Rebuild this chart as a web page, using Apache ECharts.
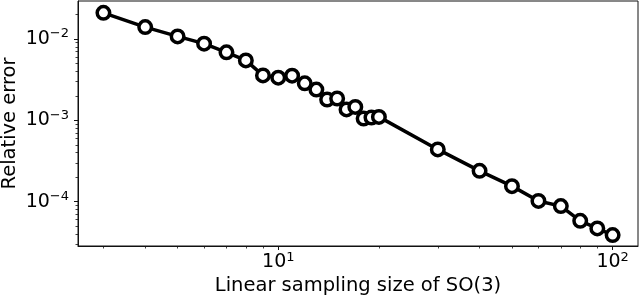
<!DOCTYPE html>
<html><head><meta charset="utf-8">
<script src="https://cdn.jsdelivr.net/npm/echarts@6/dist/echarts.min.js"></script>
<style>html,body{margin:0;padding:0;background:#fff}#c{width:640px;height:298px}</style>
</head><body><div id="c"></div>
<script>
const sampleSizes = [3,4,5,6,7,8,9,10,11,12,13,14,15,16,17,18,19,20,30,40,50,60,70,80,90,100];
const relativeErrors = [0.0209,0.01396,0.01073,0.00873,0.00683,0.00544,0.00356,0.00334,0.00353,0.00284,0.00238,0.00180,0.00185,0.00136,0.00146,0.00105,0.00108,0.00110,0.000438,0.000239,0.000155,0.000102,0.0000881,0.0000581,0.0000469,0.0000388];
const xMajorTicks = [10,100];
const xMinorTicks = [3,4,5,6,7,8,9,20,30,40,50,60,70,80,90];
const yMajorTicks = [1e-4,1e-3,1e-2];
const yMinorTicks = [3e-5,4e-5,5e-5,6e-5,7e-5,8e-5,9e-5,2e-4,3e-4,4e-4,5e-4,6e-4,7e-4,8e-4,9e-4,2e-3,3e-3,4e-3,5e-3,6e-3,7e-3,8e-3,9e-3,2e-2];
const xTitle = 'Linear sampling size of SO(3)';
const yTitle = 'Relative error';

const FONT = 'DejaVu Sans';
const X_MIN = 2.518, X_MAX = 119.1;
const Y_MIN = 2.85e-5, Y_MAX = 0.0292;
const rich = {
  b: {fontSize: 19, fontFamily: FONT, color: '#000'},
  s: {fontSize: 13, fontFamily: FONT, color: '#000', padding: [0, 0, 10, 0]}
};
function powLabel(v) {
  const e = Math.round(Math.log10(v));
  return '{b|10}{s|' + (e < 0 ? '\u2212' + (-e) : String(e)) + '}';
}
const chart = echarts.init(document.getElementById('c'), null, {renderer: 'canvas'});
chart.setOption({
  animation: false,
  backgroundColor: '#fff',
  grid: {left: 78, right: 2, top: 1, bottom: 52, show: true, borderColor: '#111', borderWidth: 1,
         containLabel: false, outerBoundsMode: 'none'},
  xAxis: [{
    type: 'log', min: X_MIN, max: X_MAX, position: 'bottom',
    name: xTitle, nameLocation: 'middle', nameGap: 30, nameMoveOverlap: false,
    nameTextStyle: {fontFamily: FONT, fontSize: 19.5, color: '#000'},
    axisLine: {show: true, lineStyle: {color: '#111', width: 1}},
    axisTick: {show: true, length: 4, inside: false, customValues: xMajorTicks, lineStyle: {color: '#111', width: 1}},
    axisLabel: {show: true, customValues: xMajorTicks, margin: 5, formatter: powLabel, rich: rich},
    splitLine: {show: false}, minorTick: {show: false}
  }, {
    type: 'log', min: X_MIN, max: X_MAX, position: 'bottom',
    axisLine: {show: false},
    axisTick: {show: true, length: 2.5, customValues: xMinorTicks, lineStyle: {color: '#111', width: 0.8}},
    axisLabel: {show: false}, splitLine: {show: false}
  }],
  yAxis: [{
    type: 'log', min: Y_MIN, max: Y_MAX, position: 'left',
    name: yTitle, nameLocation: 'middle', nameGap: 58, nameMoveOverlap: false,
    nameTextStyle: {fontFamily: FONT, fontSize: 19.5, color: '#000'},
    axisLine: {show: true, lineStyle: {color: '#111', width: 1}},
    axisTick: {show: true, length: 4, customValues: yMajorTicks, lineStyle: {color: '#111', width: 1}},
    axisLabel: {show: true, customValues: yMajorTicks, margin: 9, formatter: powLabel, rich: rich},
    splitLine: {show: false}
  }, {
    type: 'log', min: Y_MIN, max: Y_MAX, position: 'left',
    axisLine: {show: false},
    axisTick: {show: true, length: 2.5, customValues: yMinorTicks, lineStyle: {color: '#111', width: 0.8}},
    axisLabel: {show: false}, splitLine: {show: false}
  }],
  series: [{
    type: 'line', xAxisIndex: 0, yAxisIndex: 0,
    data: sampleSizes.map((x, i) => [x, relativeErrors[i]]),
    lineStyle: {color: '#000', width: 3.5},
    symbol: 'circle', symbolSize: 12.5,
    itemStyle: {color: '#fff', borderColor: '#000', borderWidth: 3.5},
    z: 5
  }]
});
</script></body></html>
